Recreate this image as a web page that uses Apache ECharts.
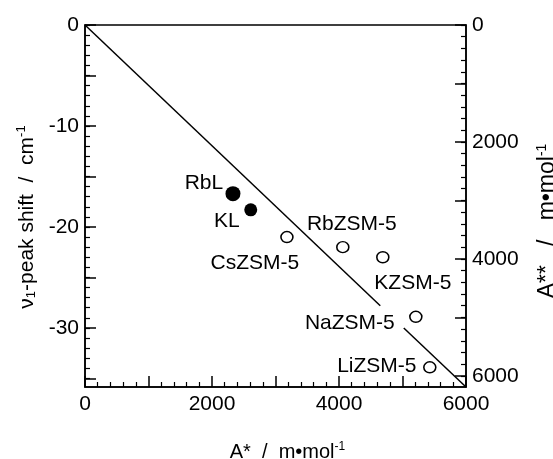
<!DOCTYPE html>
<html>
<head>
<meta charset="utf-8">
<script src="https://cdn.jsdelivr.net/npm/echarts@6/dist/echarts.min.js"></script>
<style>
html, body { margin: 0; padding: 0; background: #fff; }
#chart { width: 553px; height: 459px; }
</style>
</head>
<body>
<div id="chart"></div>
<script>
// L zeolites (filled circles)
var filledNames = ['RbL', 'KL'];
var filledA = [2330, 2610];
var filledShift = [-16.7, -18.3];

// ZSM-5 zeolites (open circles)
var openNames = ['CsZSM-5', 'RbZSM-5', 'KZSM-5', 'NaZSM-5', 'LiZSM-5'];
var openA = [3180, 4060, 4690, 5210, 5430];
var openShift = [-21.0, -22.0, -23.0, -28.9, -33.9];

// straight line, broken where it passes the NaZSM-5 label
var lineA1 = [0, 4650];
var lineShift1 = [0, -27.8];
var lineA2 = [5020, 6000];
var lineShift2 = [-30.0, -35.85];

// tick labels
var xLabels = [0, 2000, 4000, 6000];
var leftLabels = [0, -10, -20, -30];
var rightLabels = [0, 2000, 4000, 6000];

// label placement (px from marker centre) and marker sizes
var filledOffsets = [[-29, -10], [-24, 11]];
var openOffsets = [[-32, 26], [9, -23], [30, 26], [-66, 6], [-53, -1]];
var filledSizes = [15, 13];

var FONT = 'Liberation Sans';
var black = '#000';

function range(a, b, step) {
  var out = [];
  for (var v = a; v <= b + 1e-9; v += step) out.push(v);
  return out;
}
function plain(v) { return String(v); }

var leftMin = -35.85, rightMax = 6190;

var lineBase = { show: true, onZero: false, lineStyle: { color: black, width: 1.5 } };

var myChart = echarts.init(document.getElementById('chart'));
var option = {
  animation: false,
  backgroundColor: '#fff',
  textStyle: { fontFamily: FONT },
  grid: {
    left: 85, top: 25, right: 87, bottom: 72,
    outerBoundsMode: 'none', containLabel: false,
    show: true, borderColor: black, borderWidth: 1.5
  },
  xAxis: {
    type: 'value', min: 0, max: 6000, interval: 1000,
    axisLine: lineBase,
    axisTick: { inside: true, length: 11, lineStyle: { color: black, width: 1.5 } },
    minorTick: { show: true, splitNumber: 5, length: 5, lineStyle: { color: black, width: 1.2 } },
    axisLabel: { customValues: xLabels, formatter: plain, color: black, fontSize: 21, fontFamily: FONT, margin: 7 },
    splitLine: { show: false },
    name: '{t|A*  /  m•mol}{sup|-1}',
    nameLocation: 'middle',
    nameGap: 54,
    nameTextStyle: {
      padding: [0, 0, 0, 24],
      rich: {
        t: { fontSize: 20, fontFamily: FONT, color: black },
        sup: { fontSize: 12, fontFamily: FONT, color: black, padding: [0, 0, 10, 0] }
      }
    }
  },
  yAxis: [
    {
      // left: major ticks + labels
      type: 'value', position: 'left', min: leftMin, max: 0,
      axisLine: lineBase,
      axisTick: { inside: true, length: 11, customValues: range(-35, 0, 5), lineStyle: { color: black, width: 1.5 } },
      axisLabel: { customValues: leftLabels, formatter: plain, color: black, fontSize: 21, fontFamily: FONT, margin: 6 },
      splitLine: { show: false },
      name: '{t|ν}{sub|1}{t|-peak shift  /  cm}{sup|-1}',
      nameLocation: 'middle',
      nameRotate: 90,
      nameGap: 44,
      nameTextStyle: {
        padding: [0, 22, 0, 0],
        rich: {
          t: { fontSize: 21, fontFamily: FONT, color: black },
          sub: { fontSize: 13, fontFamily: FONT, color: black, padding: [0, 0, -9, 0] },
          sup: { fontSize: 13, fontFamily: FONT, color: black, padding: [0, 0, 11, 0] }
        }
      }
    },
    {
      // left: minor ticks
      type: 'value', position: 'left', min: leftMin, max: 0,
      axisLine: { show: false },
      axisTick: { inside: true, length: 5, customValues: range(-35, 0, 1), lineStyle: { color: black, width: 1.2 } },
      axisLabel: { show: false },
      splitLine: { show: false }
    },
    {
      // right: major ticks + labels (inverted scale)
      type: 'value', position: 'right', min: 0, max: rightMax, inverse: true,
      axisLine: lineBase,
      axisTick: { inside: true, length: 11, customValues: range(0, 6000, 1000), lineStyle: { color: black, width: 1.5 } },
      axisLabel: { customValues: rightLabels, formatter: plain, color: black, fontSize: 21, fontFamily: FONT, margin: 6 },
      splitLine: { show: false },
      name: '{t|A**   /   m•mol}{sup|-1}',
      nameLocation: 'middle',
      nameRotate: 90,
      nameGap: 69,
      nameTextStyle: {
        padding: [0, 30, 0, 0],
        rich: {
          t: { fontSize: 23, fontFamily: FONT, color: black },
          sup: { fontSize: 14, fontFamily: FONT, color: black, padding: [0, 0, 12, 0] }
        }
      }
    },
    {
      // right: minor ticks
      type: 'value', position: 'right', min: 0, max: rightMax, inverse: true,
      axisLine: { show: false },
      axisTick: { inside: true, length: 5, customValues: range(0, 6000, 200), lineStyle: { color: black, width: 1.2 } },
      axisLabel: { show: false },
      splitLine: { show: false }
    }
  ],
  series: [
    {
      type: 'line', yAxisIndex: 0, symbol: 'none', silent: true,
      lineStyle: { color: black, width: 1.5 },
      data: lineA1.map(function (x, i) { return [x, lineShift1[i]]; })
    },
    {
      type: 'line', yAxisIndex: 0, symbol: 'none', silent: true,
      lineStyle: { color: black, width: 1.5 },
      data: lineA2.map(function (x, i) { return [x, lineShift2[i]]; })
    },
    {
      type: 'scatter', yAxisIndex: 0, symbol: 'circle',
      itemStyle: { color: black, opacity: 1 },
      label: {
        show: true, position: 'inside', formatter: '{b}',
        color: black, fontSize: 21, fontFamily: FONT
      },
      data: filledA.map(function (x, i) {
        return {
          name: filledNames[i], value: [x, filledShift[i]],
          symbolSize: filledSizes[i], label: { offset: filledOffsets[i] }
        };
      })
    },
    {
      type: 'scatter', yAxisIndex: 0, symbol: 'circle', symbolSize: [12, 11],
      itemStyle: { color: '#fff', borderColor: black, borderWidth: 1.5, opacity: 1 },
      label: {
        show: true, position: 'inside', formatter: '{b}',
        color: black, fontSize: 21, fontFamily: FONT
      },
      data: openA.map(function (x, i) {
        return {
          name: openNames[i], value: [x, openShift[i]],
          label: { offset: openOffsets[i] }
        };
      })
    }
  ]
};
myChart.setOption(option);
</script>
</body>
</html>
